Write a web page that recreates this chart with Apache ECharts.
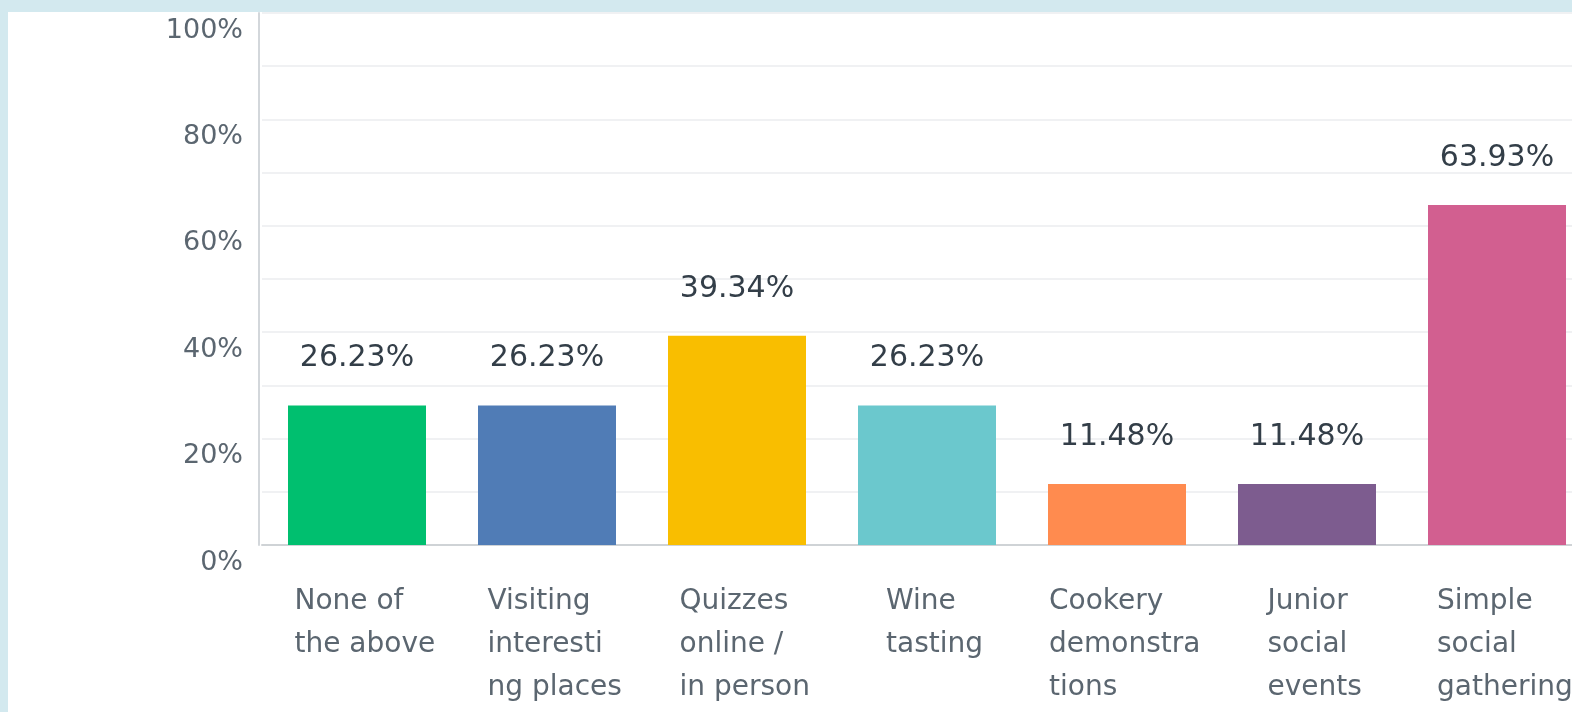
<!DOCTYPE html>
<html>
<head>
<meta charset="utf-8">
<script src="https://cdn.jsdelivr.net/npm/echarts@6/dist/echarts.min.js"></script>
<style>
	html, body { margin: 0; padding: 0; background: #d3e9ef; overflow: hidden; }
	#main { position: absolute; left: 8px; top: 12px; width: 1564px; height: 700px; background: #ffffff; }
</style>
</head>
<body>
<div id="main"></div>
<script>
// 类目（x轴标签，按原图换行）
var categories = [
	'None of\nthe above',
	'Visiting\ninteresti\nng places',
	'Quizzes\nonline /\nin person',
	'Wine\ntasting',
	'Cookery\ndemonstra\ntions',
	'Junior\nsocial\nevents',
	'Simple\nsocial\ngathering'
];
// 百分比数值
var percentValues = [26.23, 26.23, 39.34, 26.23, 11.48, 11.48, 63.93];
// 每根柱子的颜色
var barColors = ['#00bf6f', '#507cb6', '#f9be00', '#6bc8cd', '#ff8b4f', '#7d5c8f', '#d25f90'];
// y轴刻度标签
var yTickLabels = [0, 20, 40, 60, 80, 100];

var labelFont = '"DejaVu Sans", sans-serif';
var catFontSize = 28;
var measureCtx = document.createElement('canvas').getContext('2d');
measureCtx.font = catFontSize + 'px ' + labelFont;

var chart = echarts.init(document.getElementById('main'));

var option = {
	backgroundColor : '#ffffff',
	animation : false,
	grid : {
		left : 254,
		top : 1,
		width : 1330,
		height : 532,
		outerBoundsMode : 'none'
	},
	xAxis : {
		type : 'category',
		// 每行左对齐，整个文本块居中（宽度按最长一行）
		data : categories.map(function(c) {
			var w = 0;
			c.split('\n').forEach(function(l) {
				w = Math.max(w, measureCtx.measureText(l).width);
			});
			return {
				value : c,
				textStyle : {
					rich : {
						t : {
							width : Math.ceil(w) + 2,
							align : 'left',
							fontSize : catFontSize,
							lineHeight : 43,
							color : '#5b6670',
							fontFamily : labelFont
						}
					}
				}
			};
		}),
		axisLine : {
			lineStyle : { color : '#cfd3d6', width : 2 }
		},
		axisTick : { show : false },
		axisLabel : {
			interval : 0,
			margin : 35,
			padding : [0, 0, 0, 18],
			formatter : function(value) {
				return value.split('\n').map(function(l) {
					return '{t|' + l + '}';
				}).join('\n');
			},
			rich : {
				t : {
					align : 'left',
					fontSize : catFontSize,
					lineHeight : 43,
					color : '#5b6670',
					fontFamily : labelFont
				}
			}
		}
	},
	yAxis : {
		type : 'value',
		min : 0,
		max : 100,
		interval : 10,
		offset : 3,
		axisLine : {
			show : true,
			lineStyle : { color : '#d3d7db', width : 2 }
		},
		axisTick : { show : false },
		splitLine : {
			lineStyle : { color : '#ebedef', width : 1.5 }
		},
		axisLabel : {
			margin : 16,
			fontSize : 27,
			color : '#5b6670',
			fontFamily : labelFont,
			verticalAlign : 'top',
			padding : [4, 0, 0, 0],
			formatter : function(value) {
				return yTickLabels.indexOf(value) >= 0 ? value + '%' : '';
			}
		}
	},
	series : [ {
		type : 'bar',
		barWidth : 138,
		data : percentValues.map(function(v, i) {
			return {
				value : v,
				itemStyle : { color : barColors[i] }
			};
		}),
		label : {
			show : true,
			position : 'top',
			distance : 32,
			fontSize : 30,
			color : '#333e48',
			fontFamily : labelFont,
			formatter : function(p) {
				return p.value.toFixed(2) + '%';
			}
		}
	} ]
};
chart.setOption(option);
</script>
</body>
</html>
